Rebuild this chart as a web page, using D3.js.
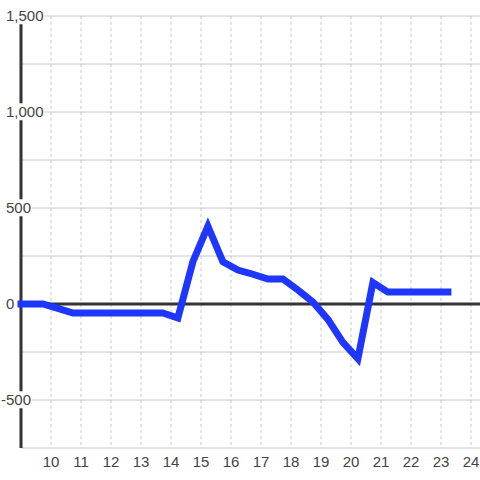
<!DOCTYPE html>
<html>
<head>
<meta charset="utf-8">
<script src="https://cdn.jsdelivr.net/npm/d3@7"></script>
<style>
  html, body { margin: 0; padding: 0; background: #fff; }
  svg { display: block; font-family: "Liberation Sans", Arial, sans-serif; }
</style>
</head>
<body>
<svg id="chart" width="480" height="480"></svg>
<script>
// ---- data ----
const hours = [9.0, 9.23, 9.73, 10.23, 10.73, 11.23, 11.73, 12.23, 12.73, 13.23, 13.73,
               14.23, 14.73, 15.23, 15.73, 16.23, 16.73, 17.23, 17.73, 18.23, 18.73,
               19.23, 19.73, 20.23, 20.73, 21.23, 21.73, 22.23, 22.73, 23.23];
const values = [0, 0, 0, -23, -47, -47, -47, -47, -47, -47, -47,
                -73, 220, 405, 220, 177, 155, 130, 130, 73, 10,
                -80, -200, -285, 112, 62, 62, 62, 62, 62];
const xTicks = [10, 11, 12, 13, 14, 15, 16, 17, 18, 19, 20, 21, 22, 23, 24];
const yGrid = [1500, 1250, 1000, 750, 500, 250, 0, -250, -500, -750];
const yLabels = [1500, 1000, 500, 0, -500];

const svg = d3.select("#chart");
const x = d3.scaleLinear().domain([9, 24.3]).range([21, 480]);
const y = d3.scaleLinear().domain([-750, 1500]).range([448, 16]);

// horizontal grid
svg.append("g").selectAll("line").data(yGrid).join("line")
  .attr("x1", x(9)).attr("x2", 480)
  .attr("y1", d => y(d)).attr("y2", d => y(d))
  .attr("stroke", "#c8c8c8").attr("stroke-width", 1);

// vertical dashed grid
svg.append("g").selectAll("line").data(xTicks).join("line")
  .attr("x1", d => x(d)).attr("x2", d => x(d))
  .attr("y1", y(1500)).attr("y2", y(-750))
  .attr("stroke", "#c8c8c8").attr("stroke-width", 1)
  .attr("stroke-dasharray", "3,3");

// zero line
svg.append("line")
  .attr("x1", x(9)).attr("x2", 480)
  .attr("y1", y(0)).attr("y2", y(0))
  .attr("stroke", "#333").attr("stroke-width", 3);

// y axis line
svg.append("line")
  .attr("x1", x(9)).attr("x2", x(9))
  .attr("y1", y(1500)).attr("y2", y(-750))
  .attr("stroke", "#333").attr("stroke-width", 3);

// y labels with white background
const fmt = d3.format(",");
const yl = svg.append("g");
yLabels.forEach(v => {
  const g = yl.append("g");
  const t = g.append("text")
    .attr("x", v < 0 ? 1 : 6).attr("y", y(v))
    .attr("dy", "0.35em")
    .attr("font-size", 15).attr("fill", "#444")
    .text(fmt(v).replace("−", "-"));
  const b = t.node().getBBox();
  g.insert("rect", "text")
    .attr("x", b.x - 1).attr("y", b.y)
    .attr("width", b.width + 2).attr("height", b.height)
    .attr("fill", "#fff");
});

// x labels
svg.append("g").selectAll("text").data(xTicks).join("text")
  .attr("x", d => x(d)).attr("y", 467)
  .attr("text-anchor", "middle")
  .attr("font-size", 15).attr("fill", "#444")
  .text(d => d);

// data line
const line = d3.line().x((d, i) => x(hours[i])).y(d => y(d));
svg.append("path")
  .datum(values)
  .attr("d", line)
  .attr("fill", "none")
  .attr("stroke", "#1f36ff")
  .attr("stroke-width", 7)
  .attr("stroke-linecap", "square")
  .attr("stroke-linejoin", "miter");
</script>
</body>
</html>
